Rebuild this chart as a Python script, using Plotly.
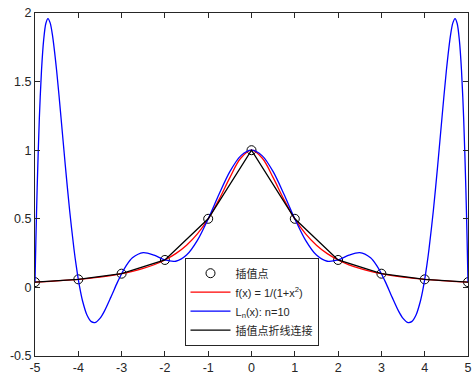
import plotly.graph_objects as go

# Interpolation nodes
node_x = [-5, -4, -3, -2, -1, 0, 1, 2, 3, 4, 5]
node_y = [0.03846, 0.05882, 0.1, 0.2, 0.5, 1.0, 0.5, 0.2, 0.1, 0.05882, 0.03846]

# f(x) = 1/(1+x^2)
f_x = [-5, -4.75, -4.5, -4.25, -4, -3.75, -3.5, -3.25, -3, -2.75, -2.5, -2.25, -2,
       -1.75, -1.5, -1.25, -1, -0.75, -0.5, -0.25, 0, 0.25, 0.5, 0.75, 1, 1.25, 1.5,
       1.75, 2, 2.25, 2.5, 2.75, 3, 3.25, 3.5, 3.75, 4, 4.25, 4.5, 4.75, 5]
f_y = [0.03846, 0.04244, 0.04706, 0.05246, 0.05882, 0.06639, 0.07547, 0.08649, 0.1,
       0.11679, 0.13793, 0.16495, 0.2, 0.24615, 0.30769, 0.39024, 0.5, 0.64, 0.8,
       0.94118, 1.0, 0.94118, 0.8, 0.64, 0.5, 0.39024, 0.30769, 0.24615, 0.2, 0.16495,
       0.13793, 0.11679, 0.1, 0.08649, 0.07547, 0.06639, 0.05882, 0.05246, 0.04706,
       0.04244, 0.03846]

# L_n(x), n=10, values
L_x = [-5, -4.98, -4.95, -4.9, -4.85, -4.8, -4.75, -4.7, -4.65, -4.6, -4.5, -4.4, -4.3,
       -4.2, -4.1, -4.05, -4, -3.95, -3.9, -3.8, -3.7, -3.6, -3.5, -3.4, -3.25, -3.1,
       -3, -2.9, -2.75, -2.5, -2.25, -2, -1.75, -1.5, -1.25, -1, -0.75, -0.5, -0.25, 0,
       0.25, 0.5, 0.75, 1, 1.25, 1.5, 1.75, 2, 2.25, 2.5, 2.75, 2.9, 3, 3.1, 3.25, 3.4,
       3.5, 3.6, 3.7, 3.8, 3.9, 3.95, 4, 4.05, 4.1, 4.2, 4.3, 4.4, 4.5, 4.6, 4.65, 4.7,
       4.75, 4.8, 4.85, 4.9, 4.95, 4.98, 5]
L_y = [0.03846, 0.33757, 0.72607, 1.23033, 1.58099, 1.80438, 1.92363, 1.95895, 1.92795,
       1.84584, 1.57873, 1.24021, 0.88808, 0.56045, 0.28022, 0.16181, 0.05882, -0.02861,
       -0.10072, -0.20130, -0.24961, -0.25460, -0.22620, -0.17434, -0.07260, 0.03487,
       0.1, 0.15536, 0.21559, 0.25376, 0.23497, 0.2, 0.19058, 0.23535, 0.34264, 0.5,
       0.67899, 0.84341, 0.95863, 1.0,
       0.95863, 0.84341, 0.67899, 0.5, 0.34264, 0.23535, 0.19058, 0.2, 0.23497, 0.25376,
       0.21559, 0.15536, 0.1, 0.03487, -0.07260, -0.17434, -0.22620, -0.25460, -0.24961,
       -0.20130, -0.10072, -0.02861, 0.05882, 0.16181, 0.28022, 0.56045, 0.88808,
       1.24021, 1.57873, 1.84584, 1.92795, 1.95895, 1.92363, 1.80438, 1.58099, 1.23033,
       0.72607, 0.33757, 0.03846]

x_ticks = [-5, -4, -3, -2, -1, 0, 1, 2, 3, 4, 5]
x_labels = ["-5", "-4", "-3", "-2", "-1", "0", "1", "2", "3", "4", "5"]
y_ticks = [-0.5, 0, 0.5, 1, 1.5, 2]
y_labels = ["-0.5", "0", "0.5", "1", "1.5", "2"]

FONT = "Liberation Sans, Arial, Noto Sans CJK SC, sans-serif"
AX = "#262626"

fig = go.Figure()
fig.add_trace(go.Scatter(x=node_x, y=node_y, mode="markers", name="插值点",
                         marker=dict(symbol="circle-open", size=9, color="#000000",
                                     line=dict(width=1, color="#000000"))))
fig.add_trace(go.Scatter(x=f_x, y=f_y, mode="lines", name="f(x) = 1/(1+x<sup>2</sup>)",
                         line=dict(color="#ff0000", width=1.3, shape="spline")))
fig.add_trace(go.Scatter(x=L_x, y=L_y, mode="lines", name="L<sub>n</sub>(x): n=10",
                         line=dict(color="#0000ff", width=1.3, shape="spline", smoothing=0.8)))
fig.add_trace(go.Scatter(x=node_x, y=node_y, mode="lines", name="插值点折线连接",
                         line=dict(color="#000000", width=1.3)))

axis_common = dict(showgrid=False, zeroline=False, showline=True, linecolor=AX,
                   linewidth=1, mirror="ticks", ticks="inside", ticklen=5,
                   tickcolor=AX, tickwidth=1, automargin=False,
                   tickfont=dict(family=FONT, size=12.5, color=AX))

fig.update_layout(
    width=473, height=375,
    margin=dict(l=35, r=5, t=13, b=19),
    paper_bgcolor="white", plot_bgcolor="white",
    font=dict(family=FONT, size=12, color=AX),
    xaxis=dict(range=[-5, 5], tickvals=x_ticks, ticktext=x_labels, **axis_common),
    yaxis=dict(range=[-0.5, 2], tickvals=y_ticks, ticktext=y_labels, **axis_common),
    legend=dict(x=0.5, xanchor="center", y=0.03, yanchor="bottom",
                bgcolor="white", bordercolor=AX, borderwidth=1,
                font=dict(family=FONT, size=11, color=AX),
                tracegroupgap=0, itemwidth=40),
    showlegend=True,
)

fig.write_html("out.html", config={"displayModeBar": False},
               post_script="document.body.style.margin='0';document.body.style.overflow='hidden';")
